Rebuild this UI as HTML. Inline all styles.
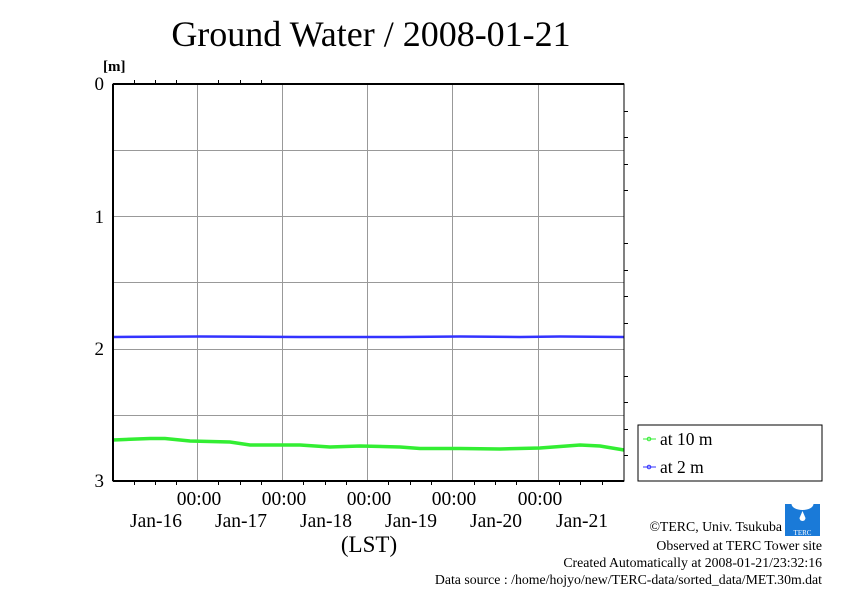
<!DOCTYPE html>
<html><head><meta charset="utf-8"><style>
body{margin:0;background:#fff;}
svg text{font-family:"Liberation Serif",serif;fill:#000;}
</style></head><body>
<svg width="842" height="595" viewBox="0 0 842 595" xmlns="http://www.w3.org/2000/svg">
<rect width="842" height="595" fill="#fff"/>
<text x="371" y="46" font-size="36" text-anchor="middle">Ground Water / 2008-01-21</text>
<text x="103" y="71" font-size="15" font-weight="bold">[m]</text>
<g stroke="#999" stroke-width="1">
<line x1="197.5" y1="84" x2="197.5" y2="481"/>
<line x1="282.5" y1="84" x2="282.5" y2="481"/>
<line x1="367.5" y1="84" x2="367.5" y2="481"/>
<line x1="452.5" y1="84" x2="452.5" y2="481"/>
<line x1="538.5" y1="84" x2="538.5" y2="481"/>
<line x1="113" y1="150.5" x2="624" y2="150.5"/>
<line x1="113" y1="216.5" x2="624" y2="216.5"/>
<line x1="113" y1="282.5" x2="624" y2="282.5"/>
<line x1="113" y1="349.5" x2="624" y2="349.5"/>
<line x1="113" y1="415.5" x2="624" y2="415.5"/>
</g>
<g stroke="#000" stroke-width="1">
<line x1="134.5" y1="84" x2="134.5" y2="80"/><line x1="155.5" y1="84" x2="155.5" y2="80"/><line x1="176.5" y1="84" x2="176.5" y2="80"/>
<line x1="218.5" y1="84" x2="218.5" y2="80"/><line x1="240.5" y1="84" x2="240.5" y2="80"/><line x1="261.5" y1="84" x2="261.5" y2="80"/>
<line x1="134.5" y1="481" x2="134.5" y2="485"/><line x1="155.5" y1="481" x2="155.5" y2="485"/><line x1="176.5" y1="481" x2="176.5" y2="485"/>
<line x1="218.5" y1="481" x2="218.5" y2="485"/><line x1="240.5" y1="481" x2="240.5" y2="485"/><line x1="261.5" y1="481" x2="261.5" y2="485"/>
<line x1="303.5" y1="481" x2="303.5" y2="485"/><line x1="325.5" y1="481" x2="325.5" y2="485"/><line x1="346.5" y1="481" x2="346.5" y2="485"/>
<line x1="388.5" y1="481" x2="388.5" y2="485"/><line x1="410.5" y1="481" x2="410.5" y2="485"/><line x1="431.5" y1="481" x2="431.5" y2="485"/>
<line x1="474.5" y1="481" x2="474.5" y2="485"/><line x1="495.5" y1="481" x2="495.5" y2="485"/><line x1="516.5" y1="481" x2="516.5" y2="485"/>
<line x1="559.5" y1="481" x2="559.5" y2="485"/><line x1="580.5" y1="481" x2="580.5" y2="485"/><line x1="602.5" y1="481" x2="602.5" y2="485"/>
<line x1="624" y1="111.5" x2="628" y2="111.5"/><line x1="624" y1="137.5" x2="628" y2="137.5"/><line x1="624" y1="164.5" x2="628" y2="164.5"/><line x1="624" y1="190.5" x2="628" y2="190.5"/>
<line x1="624" y1="243.5" x2="628" y2="243.5"/><line x1="624" y1="270.5" x2="628" y2="270.5"/><line x1="624" y1="296.5" x2="628" y2="296.5"/><line x1="624" y1="323.5" x2="628" y2="323.5"/>
<line x1="624" y1="376.5" x2="628" y2="376.5"/><line x1="624" y1="402.5" x2="628" y2="402.5"/><line x1="624" y1="429.5" x2="628" y2="429.5"/><line x1="624" y1="455.5" x2="628" y2="455.5"/>
</g>
<polyline fill="none" stroke="#3333ff" stroke-width="2.5" points="113,337 200,336.5 300,337 400,337 460,336.5 520,337 560,336.5 624,337"/>
<polyline fill="none" stroke="#33ee33" stroke-width="3.5" points="113,440 150,438.5 165,438.5 190,441 230,442 250,445 300,445 330,447 360,446 400,447 420,448.5 460,448.5 500,449 540,448 560,446.5 580,445 600,446 624,450"/>
<rect x="113" y="84" width="511" height="397" fill="none" stroke="#000" stroke-width="1"/>
<line x1="113" y1="84" x2="113" y2="481" stroke="#000" stroke-width="2"/>
<line x1="113" y1="84" x2="624" y2="84" stroke="#000" stroke-width="2"/>
<line x1="113" y1="481" x2="624" y2="481" stroke="#000" stroke-width="2"/>
<g font-size="19" text-anchor="end">
<text x="104" y="90">0</text><text x="104" y="223">1</text><text x="104" y="355">2</text><text x="104" y="487">3</text>
</g>
<g font-size="19.5" text-anchor="middle">
<text x="199" y="505">00:00</text><text x="284" y="505">00:00</text><text x="369" y="505">00:00</text><text x="454" y="505">00:00</text><text x="540" y="505">00:00</text>
<text x="156" y="527">Jan-16</text><text x="241" y="527">Jan-17</text><text x="326" y="527">Jan-18</text><text x="411" y="527">Jan-19</text><text x="496" y="527">Jan-20</text><text x="582" y="527">Jan-21</text>
<text x="369" y="552" font-size="23">(LST)</text>
</g>
<rect x="638" y="425" width="184" height="56" fill="#fff" stroke="#000" stroke-width="1"/>
<line x1="643" y1="439" x2="656" y2="439" stroke="#33ee33"/><circle cx="649" cy="439" r="1.8" fill="none" stroke="#33ee33"/>
<line x1="643" y1="467" x2="656" y2="467" stroke="#3333ff"/><circle cx="649" cy="467" r="1.8" fill="none" stroke="#3333ff"/>
<text x="660" y="445" font-size="17.5">at 10 m</text>
<text x="660" y="473" font-size="17.5">at 2 m</text>
<g>
<path d="M785,504 h35 v32 h-35 z" fill="#1a7ad8"/>
<ellipse cx="802.5" cy="504" rx="11" ry="6" fill="#fff"/>
<path d="M802.5,511 l-3,7 a3,3 0 0 0 6,0 z" fill="#fff"/>
<text x="802.5" y="535" font-size="7" text-anchor="middle" style="fill:#fff">TERC</text>
</g>
<g font-size="13.8" text-anchor="end">
<text x="782" y="531">©TERC, Univ. Tsukuba</text>
<text x="822" y="550">Observed at TERC Tower site</text>
<text x="822" y="567">Created Automatically at 2008-01-21/23:32:16</text>
<text x="822" y="584">Data source : /home/hojyo/new/TERC-data/sorted_data/MET.30m.dat</text>
</g>
</svg>
</body></html>
